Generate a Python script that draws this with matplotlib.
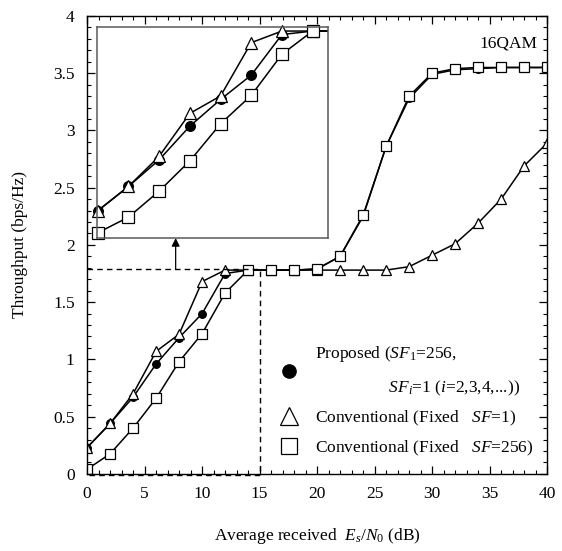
import matplotlib.pyplot as plt
from matplotlib.ticker import MultipleLocator

plt.rcParams.update({
    "font.family": ["Liberation Serif", "DejaVu Serif"],
    "font.size": 12.5,
    "mathtext.fontset": "custom",
    "mathtext.rm": "Liberation Serif",
    "mathtext.it": "Liberation Serif:italic",
    "xtick.direction": "in",
    "ytick.direction": "in",
    "xtick.top": True,
    "ytick.right": True,
})

snr = [0, 2, 4, 6, 8, 10, 12, 14, 16, 18, 20, 22, 24, 26, 28, 30, 32, 34, 36, 38, 40]
proposed = [0.23, 0.44, 0.67, 0.96, 1.19, 1.40, 1.75, 1.78, 1.78, 1.78, 1.79,
            1.90, 2.25, 2.86, 3.28, 3.49, 3.53, 3.54, 3.55, 3.55, 3.55]
conv_sf1 = [0.23, 0.44, 0.70, 1.07, 1.22, 1.68, 1.78, 1.78, 1.78, 1.78, 1.78,
            1.78, 1.78, 1.78, 1.81, 1.91, 2.01, 2.19, 2.40, 2.69, 2.89]
conv_sf256 = [0.04, 0.175, 0.40, 0.66, 0.98, 1.225, 1.58, 1.78, 1.78, 1.78, 1.79,
              1.90, 2.26, 2.86, 3.30, 3.50, 3.54, 3.55, 3.55, 3.55, 3.55]

series = [
    (proposed, "o", "k", 5.5,
     "Proposed ($SF_1$=256,\n                 $SF_i$=1 ($i$=2,3,4,...))"),
    (conv_sf1, "^", "w", 7.5, "Conventional (Fixed   $SF$=1)"),
    (conv_sf256, "s", "w", 6.5, "Conventional (Fixed   $SF$=256)"),
]

fig = plt.figure(figsize=(5.62, 5.51), dpi=100)
ax = fig.add_axes([0.155, 0.140, 0.8185, 0.831])

for vals, mk, fc, ms, lab in series:
    ax.plot(snr, vals, color="k", lw=1.1, marker=mk, ms=ms, mfc=fc, mec="k",
            mew=0.9, label=lab)

# dashed zoom region
ax.plot([0, 15, 15, 0], [1.79, 1.79, -0.012, -0.012], "k--", lw=1,
        dashes=(4, 3), clip_on=False)
ax.annotate("", xy=(7.7, 2.06), xytext=(7.7, 1.79),
            arrowprops=dict(arrowstyle="-|>", color="k", lw=0.9,
                            mutation_scale=12, shrinkA=0, shrinkB=0))

ax.text(39.2, 3.76, "16QAM", ha="right", va="center")

ax.set_xlim(0, 40)
ax.set_ylim(0, 4)
ax.xaxis.set_major_locator(MultipleLocator(5))
ax.xaxis.set_minor_locator(MultipleLocator(1))
ax.yaxis.set_major_locator(MultipleLocator(0.5))
ax.yaxis.set_minor_locator(MultipleLocator(0.1))
ax.yaxis.set_major_formatter(plt.FuncFormatter(lambda v, p: f"{v:g}"))
ax.tick_params(which="major", length=6, width=0.9, pad=9)
ax.tick_params(which="minor", length=3, width=0.8)
for s in ax.spines.values():
    s.set_linewidth(1.0)

ax.set_xlabel("Average received  $E_s/N_0$ (dB)", labelpad=17)
ax.set_ylabel("Throughput (bps/Hz)", labelpad=18)

leg = ax.legend(loc="upper left", bbox_to_anchor=(0.42, 0.283), frameon=False,
                handlelength=1.0, handletextpad=1.0, labelspacing=0.6,
                borderpad=0, borderaxespad=0, markerscale=1.75)
for h in leg.legend_handles:
    h.set_linestyle("none")
leg.get_texts()[0].set_linespacing(2.1)

# inset zoom
axin = fig.add_axes([0.1726, 0.568, 0.411, 0.383])
for vals, mk, fc, ms, lab in series:
    axin.plot(snr, vals, color="k", lw=1.1)
    xs = [x for x in snr if x <= 15]
    axin.plot(xs, vals[:len(xs)], ls="none", marker=mk, ms=ms + 1.5, mfc=fc,
              mec="k", mew=0.9, clip_on=False)
axin.set_xlim(-0.05, 15)
axin.set_ylim(-0.005, 1.815)
axin.set_xticks([])
axin.set_yticks([])
for s in axin.spines.values():
    s.set_color("0.35")
    s.set_linewidth(1.1)

fig.savefig("out.png", dpi=100)
